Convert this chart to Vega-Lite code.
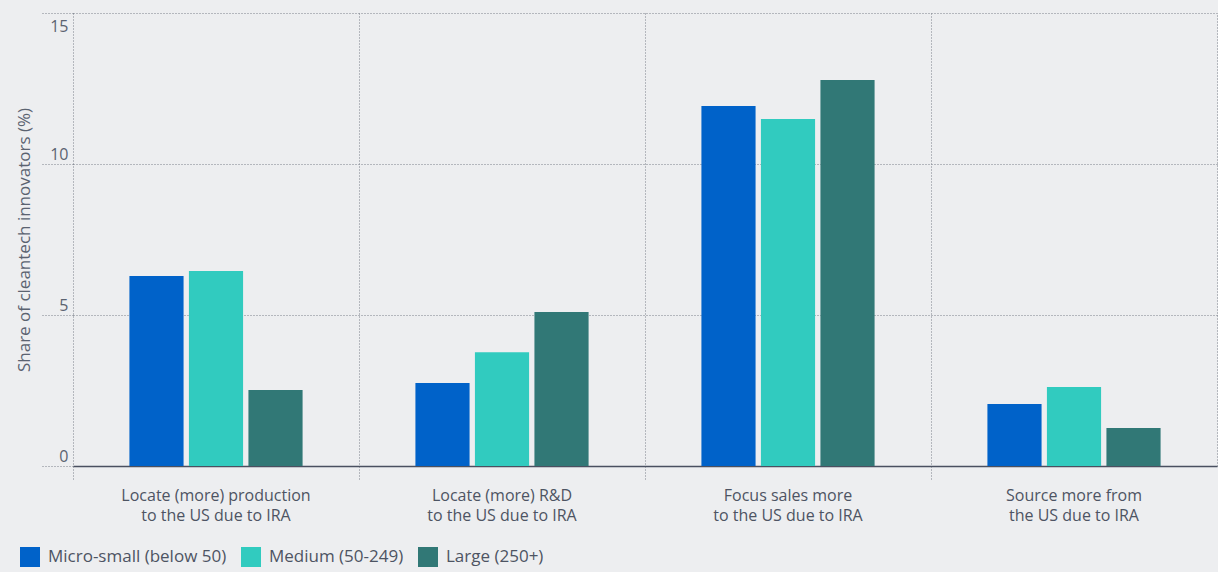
{
  "$schema": "https://vega.github.io/schema/vega-lite/v6.json",
  "width": 1144,
  "height": 453,
  "autosize": {"type": "none"},
  "padding": {"left": 73, "top": 13, "right": 1, "bottom": 106},
  "background": "#edeef0",
  "config": {
    "view": {"stroke": null},
    "font": "Open Sans",
    "axis": {"labelFont": "Open Sans", "titleFont": "Open Sans"}
  },
  "data": {
    "values": [
      {"group": "Locate (more) production|to the US due to IRA", "size": "Micro-small (below 50)", "value": 6.29},
      {"group": "Locate (more) production|to the US due to IRA", "size": "Medium (50-249)", "value": 6.46},
      {"group": "Locate (more) production|to the US due to IRA", "size": "Large (250+)", "value": 2.52},
      {"group": "Locate (more) R&D|to the US due to IRA", "size": "Micro-small (below 50)", "value": 2.75},
      {"group": "Locate (more) R&D|to the US due to IRA", "size": "Medium (50-249)", "value": 3.77},
      {"group": "Locate (more) R&D|to the US due to IRA", "size": "Large (250+)", "value": 5.10},
      {"group": "Focus sales more|to the US due to IRA", "size": "Micro-small (below 50)", "value": 11.92},
      {"group": "Focus sales more|to the US due to IRA", "size": "Medium (50-249)", "value": 11.49},
      {"group": "Focus sales more|to the US due to IRA", "size": "Large (250+)", "value": 12.78},
      {"group": "Source more from|the US due to IRA", "size": "Micro-small (below 50)", "value": 2.05},
      {"group": "Source more from|the US due to IRA", "size": "Medium (50-249)", "value": 2.62},
      {"group": "Source more from|the US due to IRA", "size": "Large (250+)", "value": 1.26}
    ]
  },
  "layer": [
    {
      "mark": {"type": "bar", "opacity": 0},
      "encoding": {
        "x": {"field": "group", "type": "nominal", "sort": null,
          "scale": {"paddingInner": 0, "paddingOuter": 0},
          "axis": {
            "title": null, "labelAngle": 0, "bandPosition": 0,
            "labelExpr": "split(datum.label, '|')",
            "labelFontSize": 16, "labelColor": "#4d5463", "labelLineHeight": 20,
            "labelPadding": 8, "labelBaseline": "top", "labelLimit": 0,
            "grid": true, "gridColor": "#7a808a", "gridDash": [1, 2], "gridWidth": 1,
            "ticks": true, "tickSize": 13, "tickColor": "#7a808a", "tickDash": [1, 2], "tickWidth": 1,
            "domain": true, "domainColor": "#4a5060", "domainWidth": 1.5
          }},
        "xOffset": {"field": "size", "sort": null,
          "scale": {"paddingInner": 0.09, "paddingOuter": 0.948}},
        "y": {"field": "value", "type": "quantitative",
          "scale": {"domain": [0, 15], "nice": false},
          "axis": {"orient": "right", "labels": false, "ticks": false, "grid": false, "title": null,
            "domain": true, "domainColor": "#7a808a", "domainDash": [1, 2], "domainWidth": 1}}
      }
    },
    {
      "mark": {"type": "bar"},
      "encoding": {
        "x": {"field": "group", "type": "nominal", "sort": null,
          "scale": {"paddingInner": 0, "paddingOuter": 0},
          "axis": {
            "title": null, "labelAngle": 0, "bandPosition": 0,
            "labelExpr": "split(datum.label, '|')",
            "labelFontSize": 16, "labelColor": "#4d5463", "labelLineHeight": 20,
            "labelPadding": 8, "labelBaseline": "top", "labelLimit": 0,
            "grid": true, "gridColor": "#7a808a", "gridDash": [1, 2], "gridWidth": 1,
            "ticks": true, "tickSize": 13, "tickColor": "#7a808a", "tickDash": [1, 2], "tickWidth": 1,
            "domain": true, "domainColor": "#4a5060", "domainWidth": 1.5
          }},
        "xOffset": {"field": "size", "sort": null,
          "scale": {"paddingInner": 0.09, "paddingOuter": 0.948}},
        "y": {"field": "value", "type": "quantitative",
          "scale": {"domain": [0, 15], "nice": false},
          "axis": {
            "title": "Share of cleantech innovators (%)", "titleFontSize": 17, "titleFontWeight": "normal",
            "titleColor": "#5b6370", "titlePadding": 6,
            "values": [0, 5, 10, 15], "domain": false,
            "grid": true, "gridColor": "#7a808a", "gridDash": [1, 2], "gridWidth": 1,
            "ticks": true, "tickSize": 33, "tickColor": "#7a808a", "tickDash": [1, 2],
            "labelPadding": -28, "labelFontSize": 16, "labelColor": "#5b6370",
            "labelBaseline": {"condition": {"test": "datum.value == 15", "value": "top"}, "value": "bottom"},
            "labelOffset": {"condition": {"test": "datum.value == 15", "value": 5}, "value": -2}
          }},
        "color": {"field": "size", "type": "nominal", "sort": null,
          "scale": {"domain": ["Micro-small (below 50)", "Medium (50-249)", "Large (250+)"],
            "range": ["#0062c9", "#31cbbf", "#317876"]},
          "legend": {
            "title": null, "orient": "none", "direction": "horizontal",
            "legendX": -53, "legendY": 534,
            "symbolType": "square", "symbolSize": 400, "symbolStrokeWidth": 0,
            "labelFontSize": 17, "labelColor": "#4d5463", "labelOffset": 8, "labelLimit": 0,
            "columnPadding": 14
          }}
      }
    }
  ],
  "resolve": {"axis": {"y": "independent"}}
}
